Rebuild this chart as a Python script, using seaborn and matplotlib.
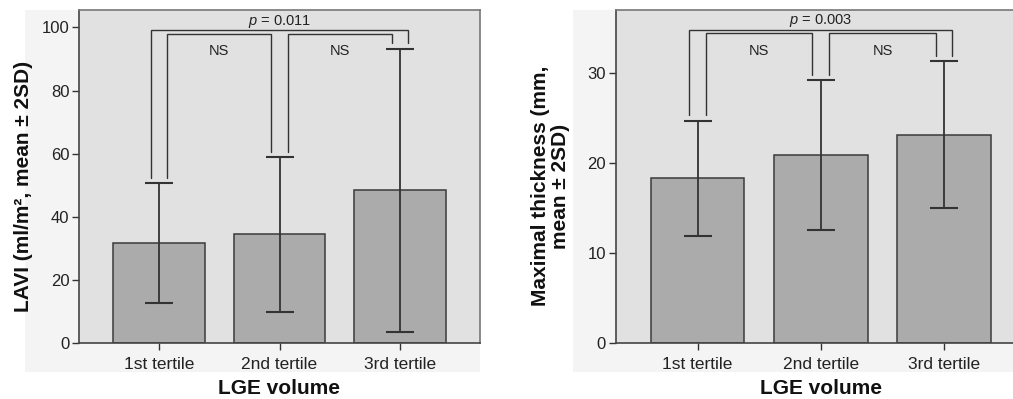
import matplotlib
matplotlib.use("Agg")
import matplotlib.pyplot as plt
import seaborn as sns
import pandas as pd
import numpy as np
from matplotlib.patches import Rectangle

# ---- data ----
categories = ["1st tertile", "2nd tertile", "3rd tertile"]
lavi_mean = [31.6, 34.5, 48.5]
lavi_low = [12.6, 9.9, 3.6]
lavi_high = [50.6, 59.1, 93.3]
thick_mean = [18.3, 20.9, 23.1]
thick_low = [11.9, 12.6, 15.0]
thick_high = [24.7, 29.2, 31.3]
# brackets: (left bar, right bar, height, label)
lavi_brackets = [(0, 2, 99.1, "p"), (0, 1, 98.0, "NS"), (1, 2, 98.0, "NS")]
thick_brackets = [(0, 2, 34.8, "p"), (0, 1, 34.4, "NS"), (1, 2, 34.4, "NS")]
lavi_p = "0.011"
thick_p = "0.003"

sns.set_theme(style="white")
plt.rcParams["font.family"] = ["Liberation Sans", "DejaVu Sans"]
plt.rcParams["mathtext.fontset"] = "custom"
plt.rcParams["mathtext.it"] = "Liberation Sans:italic"
plt.rcParams["mathtext.rm"] = "Liberation Sans"

W, H = 1013, 399
fig = plt.figure(figsize=(W / 100, H / 100), dpi=100)

BG = "#e1e1e1"
BAR = "#ababab"
DARK = "#333333"

def px(x0, y0, x1, y1):
    return [x0 / W, 1 - y1 / H, (x1 - x0) / W, (y1 - y0) / H]

# faint chart-area backgrounds
for (a, b) in [(25, 480), (573, 1013)]:
    fig.patches.append(Rectangle((a / W, 1 - 372 / H), (b - a) / W, (372 - 10) / H,
                                 transform=fig.transFigure, facecolor="#f4f4f4",
                                 edgecolor="none", zorder=-10))

def panel(rect, means, lows, highs, ylim, yticks, ylabel, brackets, pval, xright,
          leg_off, ylab_x):
    ax = fig.add_axes(rect)
    ax.set_facecolor(BG)
    df = pd.DataFrame({"cat": categories, "val": means})
    sns.barplot(data=df, x="cat", y="val", ax=ax, color=BAR, width=0.76,
                edgecolor="#3a3a3a", linewidth=1.1, errorbar=None, saturation=1)
    for p in ax.patches:
        p.set_facecolor(BAR)
    x = np.arange(len(categories))
    m = np.array(means)
    yerr = [m - np.array(lows), np.array(highs) - m]
    ax.errorbar(x, m, yerr=yerr, fmt="none", ecolor=DARK, elinewidth=1.3,
                capsize=10, capthick=1.5, zorder=5)
    ax.set_xlim(-0.665, xright)
    ax.set_ylim(*ylim)
    ax.set_yticks(yticks)
    ax.tick_params(axis="both", direction="out", length=5, width=1, color=DARK,
                   labelsize=12, labelcolor="#222222", pad=2, left=True, bottom=True)
    ax.tick_params(axis="x", pad=5, labelsize=12.5)
    ax.set_xlabel("LGE volume", fontsize=15, fontweight="bold", labelpad=5, color="#111111")
    ax.set_ylabel(ylabel, fontsize=15, fontweight="bold", color="#111111", linespacing=1.05)
    ax.yaxis.set_label_coords(ylab_x, 0.472)
    for s in ["left", "bottom"]:
        ax.spines[s].set_color("#444444")
        ax.spines[s].set_linewidth(1.2)
    for s in ["top", "right"]:
        ax.spines[s].set_color("#777777")
        ax.spines[s].set_linewidth(1.2)
    # brackets
    off = 0.068
    h = np.array(highs)
    for (i, j, yb, lab) in brackets:
        outer = lab == "p"
        xa = x[i] - off if outer else x[i] + off
        xb = x[j] + off if outer else x[j] - off
        ax.plot([xa, xa, xb, xb], [h[i] + leg_off, yb, yb, h[j] + leg_off],
                color=DARK, lw=1.0, zorder=6, solid_joinstyle="miter")
        if outer:
            ax.text((x[i] + x[j]) / 2, yb + (ylim[1] * 0.002), f"$p$ = {pval}",
                    ha="center", va="bottom", fontsize=10.5, color="#222222")
        else:
            ax.text((x[i] + x[j]) / 2, ylim[1] * 0.877, "NS", ha="center",
                    va="center", fontsize=10.5, color="#222222")
    return ax

ax1 = panel(px(79, 10, 480, 343.3), lavi_mean, lavi_low, lavi_high, (0, 105.5),
            [0, 20, 40, 60, 80, 100], "LAVI (ml/m², mean ± 2SD)", lavi_brackets,
            lavi_p, 2.665, 1.6, -0.115)
ax2 = panel(px(615.7, 10, 1026, 343.3), thick_mean, thick_low, thick_high, (0, 37.0),
            [0, 10, 20, 30], "Maximal thickness (mm,\nmean ± 2SD)", thick_brackets,
            thick_p, 2.665, 0.6, -0.111)

fig.savefig("out.png", dpi=100)
